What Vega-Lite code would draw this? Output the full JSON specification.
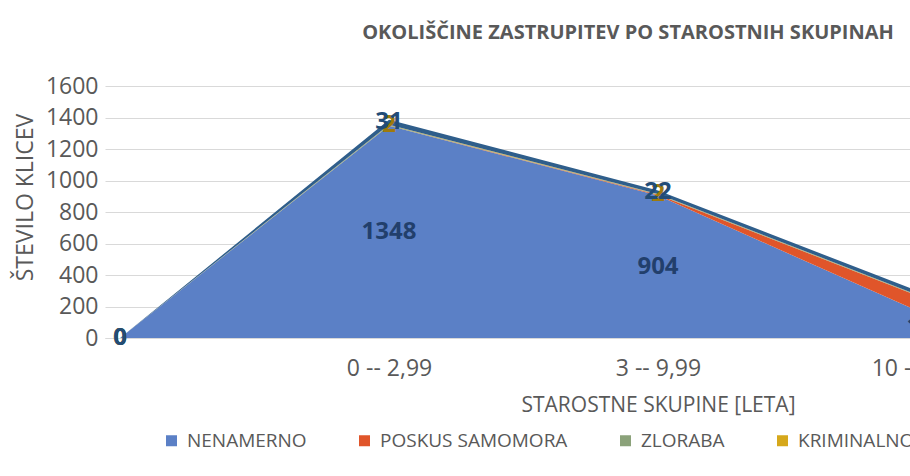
{
  "$schema": "https://vega.github.io/schema/vega-lite/v6.json",
  "width": 1106,
  "height": 252,
  "autosize": {"type": "none"},
  "padding": {"left": 105, "top": 86, "right": 0, "bottom": 138},
  "background": "white",
  "title": {
    "text": "OKOLIŠČINE ZASTRUPITEV PO STAROSTNIH SKUPINAH",
    "font": "Open Sans",
    "fontSize": 20,
    "fontWeight": "bold",
    "color": "#595959",
    "anchor": "middle",
    "frame": "group",
    "dx": -30,
    "offset": 32
  },
  "config": {
    "view": {"stroke": null},
    "font": "Open Sans",
    "axisY": {
      "titleFont": "Open Sans",
      "titleFontSize": 23,
      "titleFontWeight": "normal",
      "titleColor": "#595959",
      "titlePadding": 8,
      "titleY": 111,
      "labelFont": "Open Sans",
      "labelFontSize": 23,
      "labelColor": "#595959",
      "labelPadding": 7,
      "labelOverlap": false,
      "ticks": false,
      "domain": false,
      "gridColor": "#D9D9D9",
      "gridWidth": 1
    }
  },
  "data": {
    "values": [
      {"cat": " ", "series": "NENAMERNO", "ord": 1, "value": 0},
      {"cat": " ", "series": "POSKUS SAMOMORA", "ord": 2, "value": 0},
      {"cat": " ", "series": "ZLORABA", "ord": 3, "value": 0},
      {"cat": " ", "series": "KRIMINALNO", "ord": 4, "value": 0},
      {"cat": " ", "series": "NEZNANO", "ord": 5, "value": 0},
      {"cat": "0 -- 2,99", "series": "NENAMERNO", "ord": 1, "value": 1348},
      {"cat": "0 -- 2,99", "series": "POSKUS SAMOMORA", "ord": 2, "value": 0},
      {"cat": "0 -- 2,99", "series": "ZLORABA", "ord": 3, "value": 4},
      {"cat": "0 -- 2,99", "series": "KRIMINALNO", "ord": 4, "value": 2},
      {"cat": "0 -- 2,99", "series": "NEZNANO", "ord": 5, "value": 31},
      {"cat": "3 -- 9,99", "series": "NENAMERNO", "ord": 1, "value": 904},
      {"cat": "3 -- 9,99", "series": "POSKUS SAMOMORA", "ord": 2, "value": 6},
      {"cat": "3 -- 9,99", "series": "ZLORABA", "ord": 3, "value": 3},
      {"cat": "3 -- 9,99", "series": "KRIMINALNO", "ord": 4, "value": 2},
      {"cat": "3 -- 9,99", "series": "NEZNANO", "ord": 5, "value": 22},
      {"cat": "10 -- 17,99", "series": "NENAMERNO", "ord": 1, "value": 145},
      {"cat": "10 -- 17,99", "series": "POSKUS SAMOMORA", "ord": 2, "value": 100},
      {"cat": "10 -- 17,99", "series": "ZLORABA", "ord": 3, "value": 3},
      {"cat": "10 -- 17,99", "series": "KRIMINALNO", "ord": 4, "value": 2},
      {"cat": "10 -- 17,99", "series": "NEZNANO", "ord": 5, "value": 25}
    ]
  },
  "encoding": {
    "x": {
      "field": "cat",
      "type": "ordinal",
      "scale": {"type": "point", "domain": [" ", "0 -- 2,99", "3 -- 9,99", "10 -- 17,99", "18 +"], "padding": 0.056},
      "axis": {
        "title": "STAROSTNE SKUPINE [LETA]",
        "titleFont": "Open Sans",
        "titleFontSize": 21,
        "titleFontWeight": "normal",
        "titleColor": "#595959",
        "titlePadding": 14,
        "labelFont": "Open Sans",
        "labelFontSize": 23,
        "labelColor": "#595959",
        "labelAngle": 0,
        "labelPadding": 19,
        "labelOverlap": false,
        "ticks": false,
        "domainColor": "#D9D9D9",
        "grid": false
      }
    }
  },
  "layer": [
    {
      "mark": {"type": "area", "opacity": 1},
      "encoding": {
        "y": {
          "field": "value",
          "type": "quantitative",
          "stack": "zero",
          "scale": {"domain": [0, 1600]},
          "axis": {
            "title": "ŠTEVILO KLICEV",
            "format": "d",
            "values": [0, 200, 400, 600, 800, 1000, 1200, 1400, 1600]
          }
        },
        "color": {
          "field": "series",
          "type": "nominal",
          "scale": {
            "domain": ["NENAMERNO", "POSKUS SAMOMORA", "ZLORABA", "KRIMINALNO", "NEZNANO"],
            "range": ["#5B80C6", "#E0552A", "#8BA27A", "#D6A81B", "#2F5E8B"]
          },
          "legend": {
            "title": null,
            "orient": "none",
            "legendX": 57,
            "legendY": 345,
            "direction": "horizontal",
            "padding": 0,
            "columnPadding": 48,
            "symbolType": "square",
            "symbolSize": 121,
            "symbolStrokeWidth": 0,
            "symbolOpacity": 1,
            "labelFont": "Open Sans",
            "labelFontSize": 19,
            "labelColor": "#595959",
            "labelOffset": 6,
            "labelLimit": 0
          }
        },
        "order": {"field": "ord", "type": "quantitative"}
      }
    },
    {
      "transform": [
        {"stack": "value", "groupby": ["cat"], "sort": [{"field": "ord", "order": "ascending"}], "as": ["v0", "v1"]},
        {"calculate": "(datum.v0 + datum.v1) / 2", "as": "mid"},
        {"filter": "datum.series == 'NENAMERNO' || datum.series == 'KRIMINALNO' || datum.series == 'NEZNANO'"}
      ],
      "mark": {"type": "text", "font": "Open Sans", "fontSize": 24, "fontWeight": "bold", "baseline": "middle", "align": "center"},
      "encoding": {
        "y": {
          "field": "mid",
          "type": "quantitative",
          "axis": {
            "title": "ŠTEVILO KLICEV",
            "format": "d",
            "values": [0, 200, 400, 600, 800, 1000, 1200, 1400, 1600]
          }
        },
        "text": {"field": "value", "type": "quantitative"},
        "color": {
          "field": "series",
          "type": "nominal",
          "scale": {
            "domain": ["NENAMERNO", "KRIMINALNO", "NEZNANO"],
            "range": ["#223F6C", "#9E7A0C", "#224C77"]
          },
          "legend": null
        }
      }
    }
  ],
  "resolve": {"scale": {"color": "independent"}}
}
